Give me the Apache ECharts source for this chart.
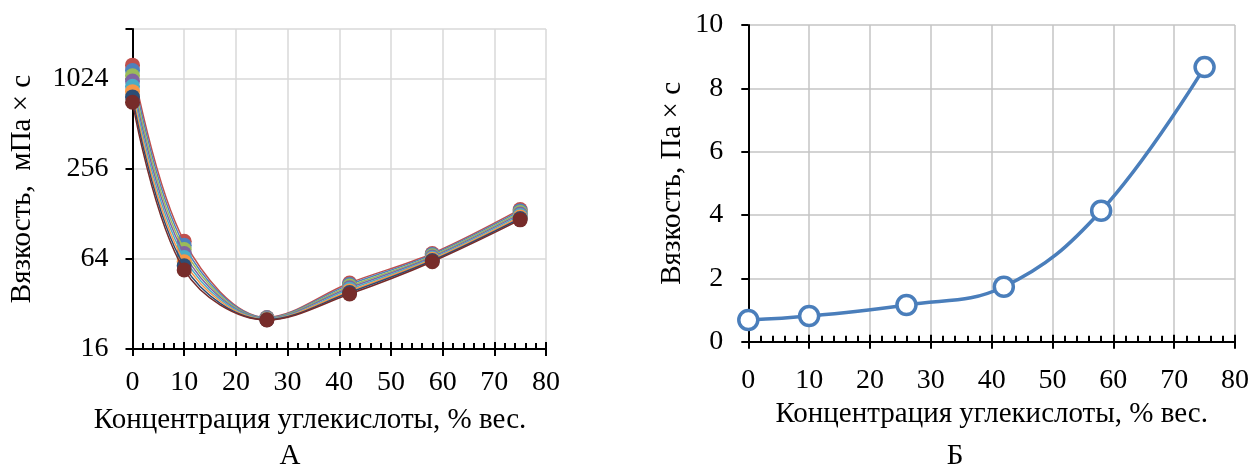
<!DOCTYPE html>
<html>
<head>
<meta charset="utf-8">
<script src="https://cdn.jsdelivr.net/npm/echarts@6/dist/echarts.min.js"></script>
<style>
html,body{margin:0;padding:0;background:#fff;}
#chart{width:1254px;height:470px;}
</style>
</head>
<body>
<div id="chart"></div>
<script>
// ---- data ----
const concentration = [0, 10, 26, 42, 58, 75];
const viscA1 = [1261, 84.0, 26.0, 44.2, 69.6, 137.0];
const viscA2 = [1162, 78.9, 25.9, 43.1, 68.4, 133.9];
const viscA3 = [1071, 74.0, 25.7, 42.1, 67.1, 130.8];
const viscA4 = [988, 69.5, 25.6, 41.1, 65.9, 127.8];
const viscA5 = [910, 65.3, 25.4, 40.1, 64.7, 124.9];
const viscA6 = [839, 61.3, 25.3, 39.1, 63.6, 122.0];
const viscA7 = [774, 57.5, 25.1, 38.2, 62.4, 119.2];
const viscA8 = [713, 54.0, 25.0, 37.3, 61.3, 116.7];
const seriesA = [viscA1, viscA2, viscA3, viscA4, viscA5, viscA6, viscA7, viscA8];
const colorsA = ['#C0504D', '#4F81BD', '#9BBB59', '#8064A2', '#4BACC6', '#F79646', '#2C4D75', '#772C2A'];
const viscB = [0.685, 0.81, 1.16, 1.735, 4.135, 8.67];
const yTicksA = [16, 64, 256, 1024];
const xTitle = 'Концентрация углекислоты, % вес.';
const yTitleA = 'Вязкость,  мПа × с';
const yTitleB = 'Вязкость, Па × с';

const FONT = 'Liberation Serif';
const FS = 28;   // tick labels
const FT = 29;   // titles

function pairs(xs, ys) { return xs.map((x, i) => [x, ys[i]]); }

function mainX(gridIndex, gap, name, nameGap) {
  return {
    type: 'value', gridIndex: gridIndex, min: 0, max: 80, interval: 10,
    axisLine: { show: true, onZero: false, lineStyle: { color: '#000', width: 2 } },
    axisTick: { show: true, inside: false, length: 7, lineStyle: { color: '#000', width: 2 } },
    axisLabel: { show: true, margin: gap, color: '#000', fontFamily: FONT, fontSize: FS },
    splitLine: { show: true, lineStyle: { color: gridIndex === 0 ? '#D9D9D9' : '#C4C4C4', width: 1.5 } },
    name: name, nameLocation: 'middle', nameGap: nameGap,
    nameTextStyle: { color: '#000', fontFamily: FONT, fontSize: FT }
  };
}
function minorX(gridIndex) {
  return {
    type: 'value', gridIndex: gridIndex, min: 0, max: 80, interval: 10, position: 'bottom',
    axisLine: { show: false, onZero: false },
    axisTick: { show: true, inside: true, length: 7, lineStyle: { color: '#000', width: 2 } },
    minorTick: { show: true, splitNumber: 5, length: 6, lineStyle: { color: '#000', width: 2 } },
    axisLabel: { show: false },
    splitLine: { show: false }
  };
}

const option = {
  animation: false,
  backgroundColor: '#fff',
  grid: [
    { left: 132.5, right: 708, top: 29, bottom: 121, containLabel: false, show: false },
    { left: 748.3, right: 19, top: 25, bottom: 128.3, containLabel: false, show: false }
  ],
  xAxis: [mainX(0, 20, '', 56), minorX(0), mainX(1, 25, xTitle, 50), minorX(1)],
  yAxis: [
    {
      type: 'log', logBase: 4, gridIndex: 0, min: 16, max: 2200,
      axisLine: { show: true, onZero: false, lineStyle: { color: '#000', width: 2 } },
      axisTick: { show: true, length: 7, lineStyle: { color: '#000', width: 2 } },
      axisLabel: {
        color: '#000', fontFamily: FONT, fontSize: FS, margin: 24,
        formatter: function (v) {
          for (const t of yTicksA) { if (Math.abs(v - t) / t < 0.01) return String(t); }
          return '';
        }
      },
      splitLine: { show: true, lineStyle: { color: '#D9D9D9', width: 1.5 } },
      name: yTitleA, nameLocation: 'middle', nameGap: 96,
      nameTextStyle: { color: '#000', fontFamily: FONT, fontSize: FT }
    },
    {
      type: 'value', gridIndex: 1, min: 0, max: 10, interval: 2,
      axisLine: { show: true, onZero: false, lineStyle: { color: '#000', width: 2 } },
      axisTick: { show: true, length: 7, lineStyle: { color: '#000', width: 2 } },
      axisLabel: { color: '#000', fontFamily: FONT, fontSize: FS, margin: 25 },
      splitLine: { show: true, lineStyle: { color: '#C4C4C4', width: 1.5 } },
      name: yTitleB, nameLocation: 'middle', nameGap: 61,
      nameTextStyle: { color: '#000', fontFamily: FONT, fontSize: FT }
    }
  ],
  graphic: [
    { type: 'text', x: 310, y: 420, style: { text: xTitle, fontFamily: FONT, fontSize: FT, fill: '#000', textAlign: 'center', textVerticalAlign: 'middle' } },
    { type: 'text', x: 290, y: 456, style: { text: 'А', fontFamily: FONT, fontSize: FT, fill: '#000', textAlign: 'center', textVerticalAlign: 'middle' } },
    { type: 'text', x: 955, y: 456, style: { text: 'Б', fontFamily: FONT, fontSize: FT, fill: '#000', textAlign: 'center', textVerticalAlign: 'middle' } }
  ],
  series: seriesA.map((vals, i) => ({
    type: 'line', xAxisIndex: 0, yAxisIndex: 0,
    data: pairs(concentration, vals),
    smooth: 0.35,
    symbol: 'circle', symbolSize: 15,
    itemStyle: { color: colorsA[i] },
    lineStyle: { color: colorsA[i], width: 1.5 },
    z: 2 + i
  })).concat([{
    type: 'line', xAxisIndex: 2, yAxisIndex: 1,
    data: pairs(concentration, viscB),
    smooth: 0.4,
    symbol: 'circle', symbolSize: 19,
    itemStyle: { color: '#fff', borderColor: '#4A7EBB', borderWidth: 3.5 },
    lineStyle: { color: '#4A7EBB', width: 3.5 },
    z: 5
  }])
};

const chart = echarts.init(document.getElementById('chart'), null, { renderer: 'canvas' });
chart.setOption(option);
</script>
</body>
</html>
